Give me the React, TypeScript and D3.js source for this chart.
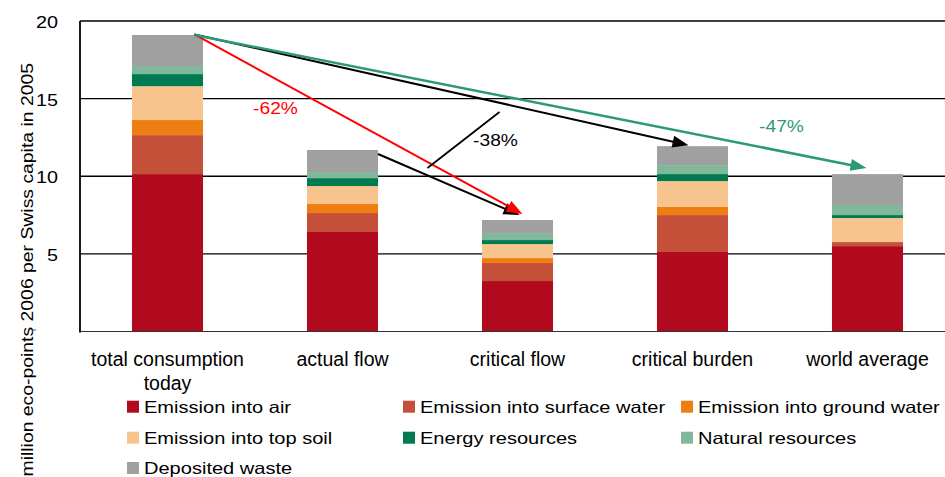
import React from "react";
import * as d3 from "d3";

const categories = ["total consumption today", "actual flow", "critical flow", "critical burden", "world average"];
const categoryLines = [["total consumption", "today"], ["actual flow"], ["critical flow"], ["critical burden"], ["world average"]];

const seriesKeys = ["air", "surface", "ground", "topsoil", "energy", "natural", "waste"];
const seriesNames = [
  "Emission into air",
  "Emission into surface water",
  "Emission into ground water",
  "Emission into top soil",
  "Energy resources",
  "Natural resources",
  "Deposited waste",
];
const seriesColors = ["#B10A1E", "#C4503A", "#EE7D12", "#F8C48E", "#007A50", "#80B89C", "#A0A0A0"];

const airValues = [10.14, 6.41, 3.25, 5.12, 5.5];
const surfaceValues = [2.51, 1.22, 1.16, 2.38, 0.26];
const groundValues = [0.97, 0.58, 0.32, 0.52, 0.0];
const topsoilValues = [2.18, 1.16, 0.9, 1.67, 1.55];
const energyValues = [0.78, 0.51, 0.26, 0.45, 0.19];
const naturalValues = [0.52, 0.39, 0.45, 0.58, 0.65];
const wasteValues = [2.0, 1.42, 0.84, 1.22, 1.99];

const yTicks = [5, 10, 15, 20];
const yTitle = "million eco-points 2006 per Swiss capita in 2005";
const reductionLabels = ["-62%", "-38%", "-47%"];

const W = 945;
const H = 477;
const FONT = "'Liberation Sans', Arial, Helvetica, sans-serif";

function T({ x, y, fs, sx = 1, anchor = "start", fill = "#000", rot = 0, children }: any) {
  return (
    <text
      transform={`translate(${x},${y})${rot ? ` rotate(${rot})` : ""} scale(${sx},1)`}
      fontSize={fs}
      textAnchor={anchor}
      fill={fill}
      fontFamily={FONT}
    >
      {children}
    </text>
  );
}

function Arrow({ x1, y1, x2, y2, color, width = 2, head = 16, headW = 12 }: any) {
  const dx = x2 - x1;
  const dy = y2 - y1;
  const len = Math.sqrt(dx * dx + dy * dy);
  const ux = dx / len;
  const uy = dy / len;
  const bx = x2 - ux * head;
  const by = y2 - uy * head;
  const px = -uy * headW / 2;
  const py = ux * headW / 2;
  return (
    <g>
      <line x1={x1} y1={y1} x2={x2 - ux * head * 0.7} y2={y2 - uy * head * 0.7} stroke={color} strokeWidth={width} />
      <polygon points={`${x2},${y2} ${bx + px},${by + py} ${bx - px},${by - py}`} fill={color} />
    </g>
  );
}

export default function App() {
  const x = d3.scaleBand<string>().domain(categories).range([80, 955]).paddingInner(0.594).paddingOuter(0.297);
  const y = d3.scaleLinear().domain([0, 20]).range([331.5, 21]);

  const valueArrays = [airValues, surfaceValues, groundValues, topsoilValues, energyValues, naturalValues, wasteValues];
  const table = categories.map((c, i) => {
    const row: any = { cat: c };
    seriesKeys.forEach((k, j) => (row[k] = valueArrays[j][i]));
    return row;
  });
  const stacked = d3.stack<any>().keys(seriesKeys)(table);
  const totals = table.map((r) => seriesKeys.reduce((s, k) => s + r[k], 0));

  const bw = x.bandwidth();
  const cx = (i: number) => (x(categories[i]) as number) + bw / 2;
  const top = (i: number) => y(totals[i]);

  const start = [cx(0) + 27, top(0) - 0.5];

  const legendCols = [127, 403, 681];
  const legendRows = [406.7, 437.7, 468];

  const lbl38 = [cx(2) - 22, top(2) - 74];

  return (
    <svg width={W} height={H} style={{ position: "absolute", left: 0, top: 0, background: "#fff" }}>
      <rect x={0} y={0} width={W} height={H} fill="#fff" />
      {/* gridlines */}
      {yTicks.map((t) => (
        <line key={t} x1={80} x2={W} y1={y(t)} y2={y(t)} stroke="#000" strokeWidth={1.3} />
      ))}
      {/* bars */}
      {stacked.map((s, si) => (
        <g key={s.key} fill={seriesColors[si]}>
          {s.map((d, i) => {
            const h = y(d[0]) - y(d[1]);
            if (h <= 0) return null;
            return <rect key={i} x={x(d.data.cat)} y={y(d[1])} width={bw} height={h} />;
          })}
        </g>
      ))}
      {/* axes */}
      <line x1={80} x2={W} y1={y(0)} y2={y(0)} stroke="#333" strokeWidth={1.2} />
      <line x1={80} x2={80} y1={y(20)} y2={y(0) + 1} stroke="#000" strokeWidth={1.8} />
      {yTicks.map((t) => (
        <T key={t} x={58} y={y(t) + 7} fs={16.5} sx={1.2} anchor="end">
          {t}
        </T>
      ))}
      <T x={33} y={63} fs={17} sx={1.14} anchor="end" rot={-90}>
        {yTitle}
      </T>
      <line x1={33} x2={36} y1={330} y2={330} stroke="#555" strokeWidth={1} />
      {/* category labels */}
      {categoryLines.map((lines, i) =>
        lines.map((ln, k) => (
          <T key={`${i}-${k}`} x={cx(i)} y={366 + k * 24} fs={19.5} anchor="middle">
            {ln}
          </T>
        ))
      )}
      {/* arrows */}
      <Arrow x1={cx(1) + bw / 2} y1={top(1) + 4} x2={cx(2) + 2} y2={top(2) - 5} color="#000" width={2} />
      <Arrow x1={start[0]} y1={start[1]} x2={cx(2) + 5} y2={top(2) - 6} color="#FF0000" width={2} />
      <Arrow x1={start[0]} y1={start[1]} x2={cx(3) - 4} y2={top(3) - 1} color="#000" width={2} />
      <Arrow x1={start[0]} y1={start[1] + 0.5} x2={cx(4) - 1} y2={top(4) - 6} color="#2A9A74" width={2.5} />
      {/* leader line for -38% */}
      <line x1={lbl38[0] - 68} y1={lbl38[1] + 22} x2={lbl38[0] + 4} y2={lbl38[1] - 34} stroke="#000" strokeWidth={1.8} />
      <T x={cx(1) - 67} y={114} fs={17} sx={1.13} anchor="middle" fill="#FF0000">
        {reductionLabels[0]}
      </T>
      <T x={lbl38[0]} y={lbl38[1]} fs={17} sx={1.13} anchor="middle" fill="#000">
        {reductionLabels[1]}
      </T>
      <T x={cx(3) + 89} y={132.3} fs={17} sx={1.13} anchor="middle" fill="#2E9B74">
        {reductionLabels[2]}
      </T>
      {/* legend */}
      {seriesNames.map((name, i) => {
        const col = i % 3;
        const row = Math.floor(i / 3);
        const lx = legendCols[col];
        const ly = legendRows[row];
        return (
          <g key={name}>
            <rect x={lx} y={ly - 6} width={12} height={12} fill={seriesColors[i]} />
            <T x={lx + 17} y={ly + 5.8} fs={16.3} sx={1.23}>
              {name}
            </T>
          </g>
        );
      })}
    </svg>
  );
}
